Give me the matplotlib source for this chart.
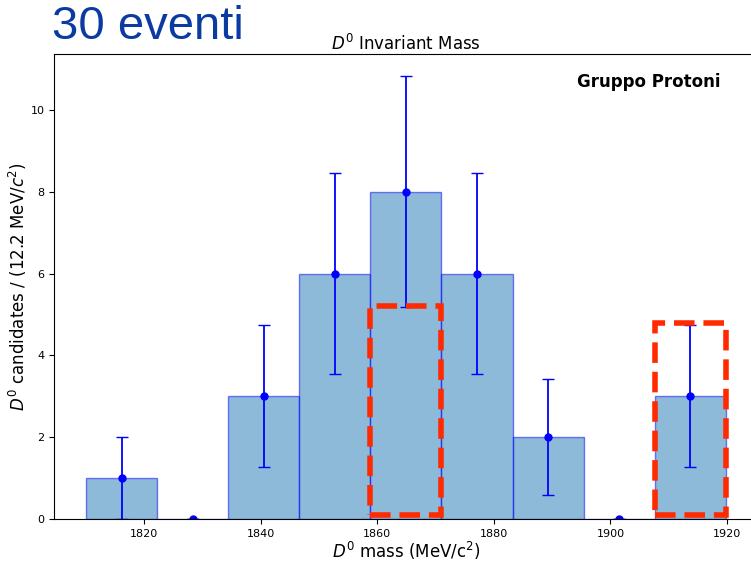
import numpy as np
import matplotlib
matplotlib.use('Agg')
from matplotlib import pyplot as plt
from matplotlib.patches import Rectangle

# D0 mass histogram: 9 bins of 12.2 MeV/c^2
bin_edges = [1810.0, 1822.2, 1834.4, 1846.6, 1858.8, 1871.0, 1883.2, 1895.4, 1907.6, 1919.8]
counts = [1, 0, 3, 6, 8, 6, 2, 0, 3]

# highlighted regions (x0, x1, y0, y1)
boxes = [(1858.8, 1871.0, 0.1, 5.2), (1907.6, 1919.8, 0.1, 4.8)]

edges = np.array(bin_edges)
n = np.array(counts, dtype=float)
centers = 0.5 * (edges[1:] + edges[:-1])
errors = np.sqrt(n)

fig = plt.figure(figsize=(7.51, 5.61), dpi=100)
ax = fig.add_axes([0.072, 0.075, 0.937, 0.829])

ax.hist(centers, bins=edges, weights=n, alpha=0.5, color='#1f77b4',
        edgecolor='blue', linewidth=1)
ax.errorbar(centers, n, yerr=errors, fmt='o', color='blue', capsize=4,
            markersize=5, elinewidth=1.3)

for x0, x1, y0, y1 in boxes:
    ax.add_patch(Rectangle((x0, y0), x1 - x0, y1 - y0, fill=False,
                           edgecolor='#ff2a00', linestyle='--', linewidth=4,
                           zorder=5))

ax.set_yticks([0, 2, 4, 6, 8, 10])
ax.tick_params(labelsize=8)
ax.set_title('$D^0$ Invariant Mass', fontsize=12, pad=3)
ax.set_xlabel('$D^0$ mass (MeV/c$^2$)', fontsize=12, labelpad=1)
ax.set_ylabel('$D^0$ candidates / (12.2 MeV/$c^2$)', fontsize=12, labelpad=1)
ax.text(0.947, 0.94, 'Gruppo Protoni', transform=ax.transAxes, ha='right',
        va='center', fontsize=12, fontweight='bold')

fig.text(0.069, 0.952, '30 eventi', fontsize=34, color='#0b3aa0',
         family='Liberation Sans', ha='left', va='center')

fig.savefig('out.png', dpi=100)
